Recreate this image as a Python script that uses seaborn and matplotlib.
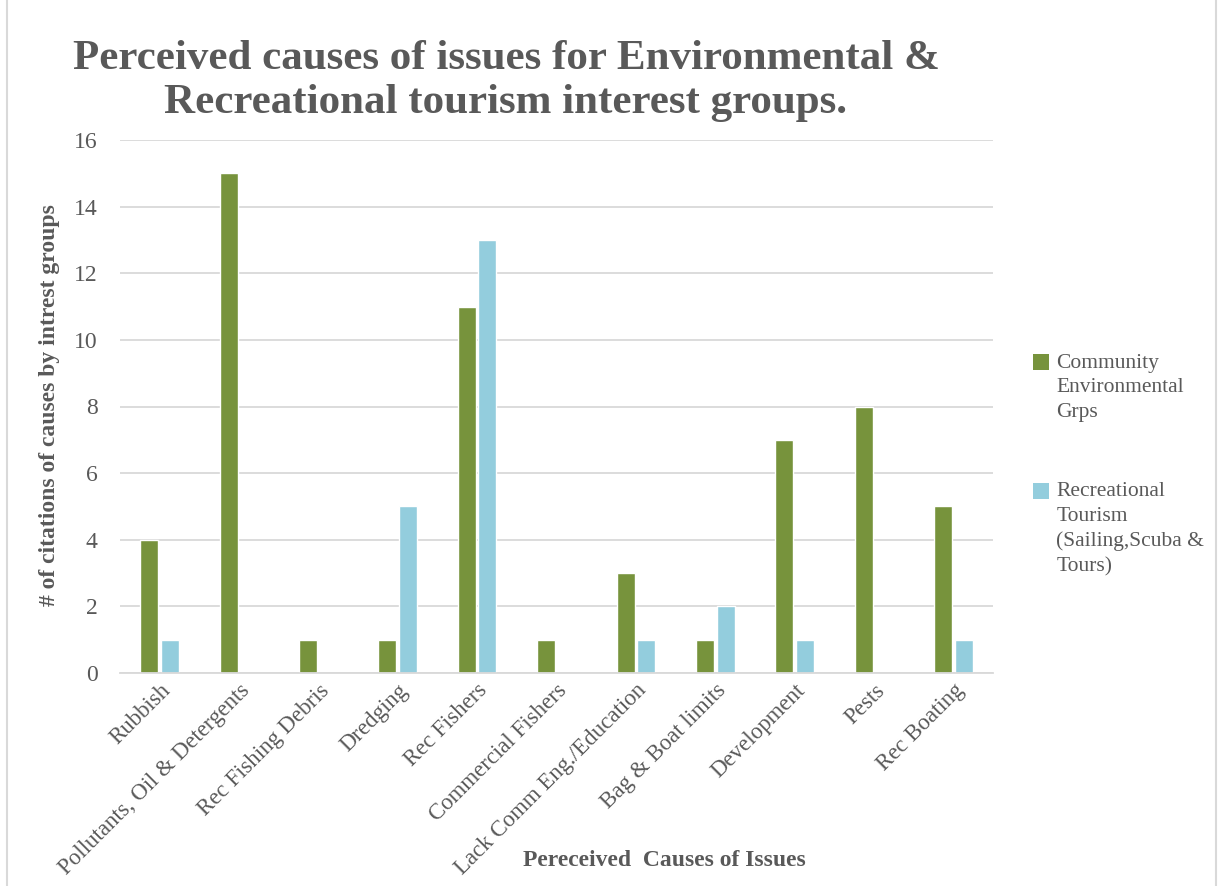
import matplotlib
matplotlib.use("Agg")
import matplotlib.pyplot as plt
import seaborn as sns
import pandas as pd
from matplotlib.patches import Rectangle, Patch
from matplotlib.lines import Line2D
from matplotlib.legend_handler import HandlerPatch

categories = ["Rubbish", "Pollutants, Oil & Detergents", "Rec Fishing Debris", "Dredging",
              "Rec Fishers", "Commercial Fishers", "Lack Comm Eng./Education",
              "Bag & Boat limits", "Development", "Pests", "Rec Boating"]
env_values = [4, 15, 1, 1, 11, 1, 3, 1, 7, 8, 5]
rec_values = [1, 0, 0, 5, 13, 0, 1, 2, 1, 0, 1]
series_names = ["Community\nEnvironmental\nGrps", "Recreational\nTourism\n(Sailing,Scuba &\nTours)"]
colors = ["#77933C", "#93CDDD"]

df = pd.DataFrame({
    "cat": categories * 2,
    "val": env_values + rec_values,
    "grp": [series_names[0]] * len(categories) + [series_names[1]] * len(categories),
})

sns.set_theme(style="white")
plt.rcParams["font.family"] = ["Liberation Serif", "DejaVu Serif"]
txt = "#595959"

fig = plt.figure(figsize=(12.18, 8.86), dpi=100)
ax = fig.add_axes([120/1218, 1-673/886, (993-120)/1218, (673-140)/886])

sns.barplot(data=df, x="cat", y="val", hue="grp", palette=colors, ax=ax,
            width=0.52, gap=0.13, saturation=1, legend=False)

ax.set_ylim(0, 16)
ax.set_yticks(range(0, 17, 2))
ax.yaxis.grid(True, color="#D9D9D9", linewidth=1.3)
ax.set_axisbelow(True)
for s in ["left", "right", "top"]:
    ax.spines[s].set_visible(False)
ax.spines["bottom"].set_color("#D9D9D9")
ax.spines["bottom"].set_linewidth(1.3)
ax.tick_params(axis="both", length=0, colors=txt, labelsize=17)
ax.tick_params(axis="y", pad=16)
ax.tick_params(axis="x", pad=5)
plt.setp(ax.get_xticklabels(), rotation=45, ha="right", rotation_mode="anchor", fontsize=16.5)

ax.set_xlabel("")
ax.set_ylabel("# of citations of causes by intrest groups", fontsize=17, fontweight="bold", color=txt)
ax.yaxis.set_label_coords((60-120)/873, (673-405)/533)

fig.text(664/1218, 1-860/886, "Pereceived  Causes of Issues", ha="center", va="center",
         fontsize=17, fontweight="bold", color=txt)

fig.text(506/1218, 1-81/886, "Perceived causes of issues for Environmental &\nRecreational tourism interest groups.",
         ha="center", va="center", fontsize=31, fontweight="bold", color=txt, linespacing=1.2)

leg_fs = 15.5
leg_ls = 1.4
def make_handler(nlines):
    shift = (nlines - 1) / 2 * leg_fs * leg_ls / 1.2
    def pf(legend, orig_handle, xdescent, ydescent, width, height, fontsize):
        s = 0.75 * fontsize
        return Rectangle((-xdescent, -ydescent + (height - s) / 2 + shift), s, s)
    return HandlerPatch(patch_func=pf)

handles = [Patch(facecolor=c, edgecolor="none") for c in colors]
hmap = {handles[0]: make_handler(3), handles[1]: make_handler(4)}
leg = fig.legend(handles, series_names, loc="upper left", bbox_to_anchor=(1024/1218, 1-345/886),
                 frameon=False, fontsize=leg_fs, labelcolor=txt, handlelength=0.75, handleheight=0.75,
                 handletextpad=0.35, labelspacing=2.8, borderaxespad=0, handler_map=hmap)
for t in leg.get_texts():
    t.set_linespacing(leg_ls)

for xx in (7, 1216):
    fig.add_artist(Line2D([xx/1218, xx/1218], [0, 1], transform=fig.transFigure,
                          color="#D9D9D9", linewidth=1.5))

fig.savefig("out.png", dpi=100, facecolor="white")
